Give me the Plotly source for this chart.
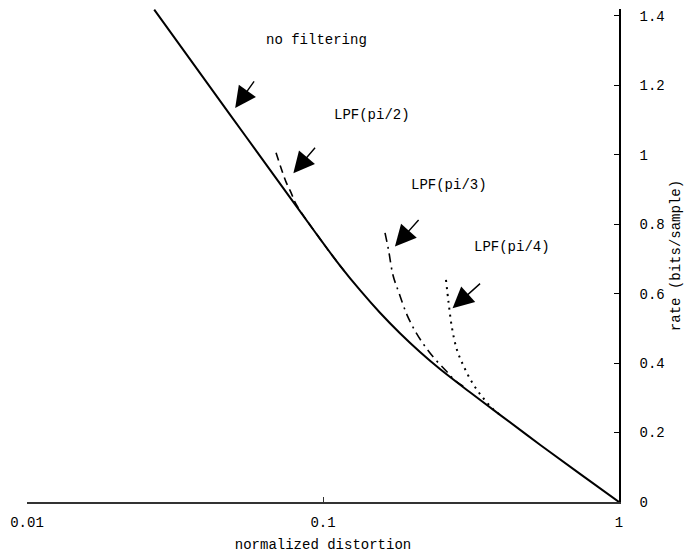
import plotly.graph_objects as go
import math

# ---- data ----
solid_x = [0.0269, 0.0485, 0.0792, 0.0977, 0.1141, 0.1334, 0.1558, 0.1820, 0.2127, 0.2484, 0.3138, 0.3963, 0.5409, 0.7384, 1.0]
solid_y = [1.418, 1.116, 0.865, 0.758, 0.681, 0.610, 0.545, 0.486, 0.432, 0.383, 0.316, 0.251, 0.165, 0.081, 0.0]

lpf2_x = [0.0694, 0.0721, 0.0750, 0.0780, 0.0811, 0.0977, 0.1141, 0.120]
lpf2_y = [1.006, 0.963, 0.922, 0.891, 0.858, 0.758, 0.681, 0.658]

lpf3_x = [0.1620, 0.1665, 0.1723, 0.1806, 0.1922, 0.2046, 0.2195, 0.2371, 0.2603, 0.2792, 0.300]
lpf3_y = [0.775, 0.726, 0.654, 0.602, 0.539, 0.493, 0.452, 0.415, 0.378, 0.350, 0.332]

lpf4_x = [0.2603, 0.2655, 0.2728, 0.2836, 0.2995, 0.3212, 0.3472, 0.3781, 0.4024]
lpf4_y = [0.640, 0.576, 0.501, 0.438, 0.389, 0.340, 0.300, 0.265, 0.247]

x_ticks = [0.01, 0.1, 1]
x_tick_text = ["0.01", "0.1", "1"]
y_ticks = [0, 0.2, 0.4, 0.6, 0.8, 1.0, 1.2, 1.4]
y_tick_text = ["0", "0.2", "0.4", "0.6", "0.8", "1", "1.2", "1.4"]

labels = ["no filtering", "LPF(pi/2)", "LPF(pi/3)", "LPF(pi/4)"]
label_pos = [(0.0947, 1.331), (0.1466, 1.115), (0.2667, 0.914), (0.4355, 0.735)]
arrow_tips = [(0.0505, 1.135), (0.0794, 0.947), (0.175, 0.736), (0.274, 0.558)]
arrow_off = [(20, -28), (23, -27), (25, -28), (29, -26)]

FONT = "Liberation Mono"

fig = go.Figure()
fig.add_trace(go.Scatter(x=solid_x, y=solid_y, mode="lines",
                         line=dict(color="black", width=2, shape="spline", smoothing=1.0)))
fig.add_trace(go.Scatter(x=lpf2_x, y=lpf2_y, mode="lines",
                         line=dict(color="black", width=1.6, dash="8px,5px", shape="spline", smoothing=1.0)))
fig.add_trace(go.Scatter(x=lpf3_x, y=lpf3_y, mode="lines",
                         line=dict(color="black", width=1.6, dash="9px,5px,2px,5px", shape="spline", smoothing=1.0)))
fig.add_trace(go.Scatter(x=lpf4_x, y=lpf4_y, mode="lines",
                         line=dict(color="black", width=2, dash="2px,5px", shape="spline", smoothing=1.0)))

annotations = []
for t, (lx, ly) in zip(labels, label_pos):
    annotations.append(dict(x=math.log10(lx), y=ly, xref="x", yref="y", text=t,
                            showarrow=False, font=dict(family=FONT, size=14, color="black")))
for (tx, ty), (ax, ay) in zip(arrow_tips, arrow_off):
    annotations.append(dict(x=math.log10(tx), y=ty, xref="x", yref="y", text="",
                            showarrow=True, arrowhead=2, arrowsize=3, arrowwidth=1.4,
                            arrowcolor="black", ax=ax, ay=ay, standoff=0))

fig.update_layout(
    width=684, height=558,
    margin=dict(l=27, r=65, t=9, b=56),
    paper_bgcolor="white", plot_bgcolor="white",
    showlegend=False,
    font=dict(family=FONT, size=14, color="black"),
    annotations=annotations,
    xaxis=dict(type="log", range=[-2, 0], tickvals=x_ticks, ticktext=x_tick_text,
               automargin=False,
               showgrid=False, zeroline=False, showline=True, linecolor="#333", linewidth=1.5,
               ticks="inside", ticklen=5, tickcolor="#333", ticklabelstandoff=6,
               title=dict(text="normalized distortion", standoff=10, font=dict(size=14))),
    yaxis=dict(range=[0, 1.42], side="right", tickvals=y_ticks, ticktext=y_tick_text,
               automargin=False,
               showgrid=False, zeroline=False, showline=True, linecolor="black", linewidth=1.5,
               ticks="inside", ticklen=5, tickcolor="black", ticklabelstandoff=16,
               title=dict(text="rate (bits/sample)", standoff=8, font=dict(size=14))),
)
fig.write_html("out.html")
